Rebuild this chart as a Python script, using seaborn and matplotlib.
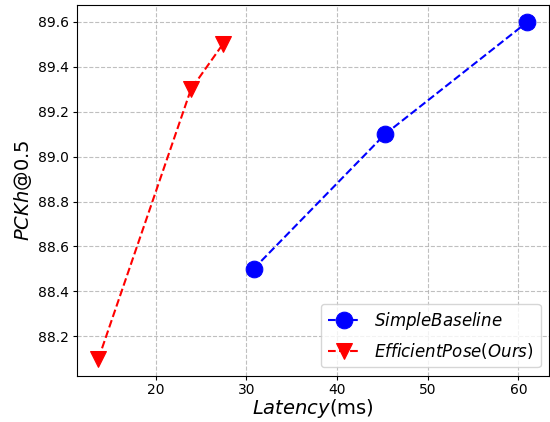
import matplotlib
matplotlib.use("Agg")
import matplotlib.pyplot as plt
import seaborn as sns
import pandas as pd

# latency (ms) vs PCKh@0.5
baseline_latency = [30.8, 45.3, 61.0]
baseline_pckh = [88.5, 89.1, 89.6]
ours_latency = [13.7, 23.9, 27.4]
ours_pckh = [88.1, 89.3, 89.5]

df_base = pd.DataFrame({"latency": baseline_latency, "pckh": baseline_pckh})
df_ours = pd.DataFrame({"latency": ours_latency, "pckh": ours_pckh})

fig, ax = plt.subplots(figsize=(5.5, 4.22), dpi=100)

sns.lineplot(data=df_base, x="latency", y="pckh", ax=ax, color="blue", linestyle="--",
             marker="o", markersize=12, markeredgecolor="blue", sort=False,
             label="$SimpleBaseline$")
sns.lineplot(data=df_ours, x="latency", y="pckh", ax=ax, color="red", linestyle="--",
             marker="v", markersize=12, markeredgecolor="red", sort=False,
             label="$EfficientPose(Ours)$")

ax.grid(True, linestyle="--", color="#b0b0b0", alpha=0.8)
ax.tick_params(length=3, pad=2.5)
ax.set_xlabel("$Latency$(ms)", fontsize=14, labelpad=0)
ax.set_ylabel("$PCKh$@0.5", fontsize=14, labelpad=3)
ax.legend(loc="lower right", fontsize=12)

fig.subplots_adjust(left=0.14, right=0.998, top=0.988, bottom=0.11)
plt.savefig("out.png", dpi=100)
plt.close()
